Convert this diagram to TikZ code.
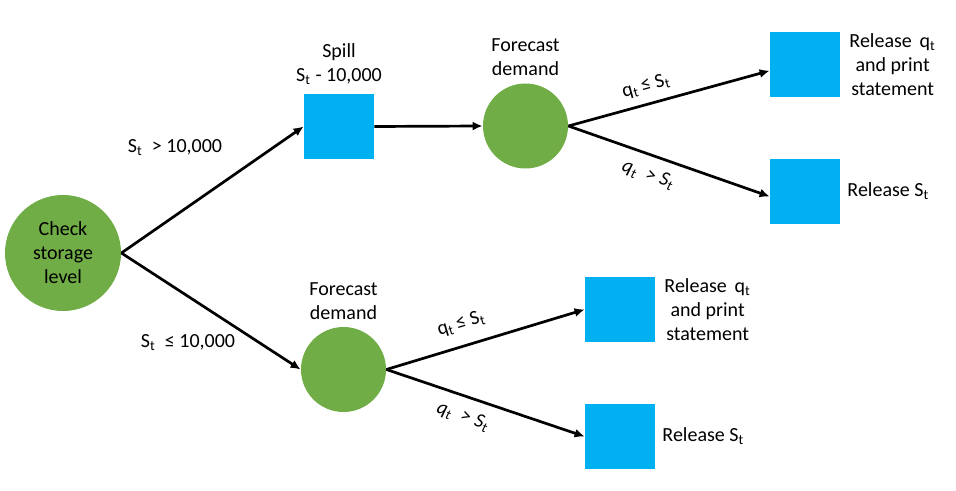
\documentclass[tikz,border=0pt]{standalone}
\usepackage{fontspec}
\setmainfont{Carlito}
\usepackage{xcolor}
\usepackage{tikz}
\usetikzlibrary{arrows.meta,positioning}
\definecolor{leafgreen}{HTML}{70AD47}
\definecolor{boxblue}{HTML}{00B0F0}

\begin{document}
\begin{tikzpicture}[x=0.5pt, y=-0.5pt, node distance=2pt, every node/.style={font=\fontsize{10}{12}\selectfont, align=center}, chance/.style={circle, fill=leafgreen, inner sep=0pt, minimum size=42.5pt}, action/.style={rectangle, fill=boxblue, inner sep=0pt, minimum width=35pt, minimum height=32.5pt}, branch/.style={line width=1.35pt, -{Latex[length=5pt, width=4.5pt]}}]
\useasboundingbox (0,0) rectangle (956,491);
\node[chance, minimum size=58pt] (check) at (63,253) {Check\\storage\\level};
\node[action] (spill) at (339,126.5) {};
\node[above=1pt of spill] (spilltxt) {Spill\\S\textsubscript{t} - 10,000};
\node[chance] (fcup) at (525.5,126) {};
\node[above=0pt of fcup] (fcuptxt) {Forecast\\demand};
\node[action] (relqup) at (805,64.5) {};
\node[action] (relsup) at (805,191.5) {};
\node[right=1pt of relqup] (relquptxt) {Release \,q\textsubscript{t}\\and print\\statement};
\node[right=0pt of relsup] (relsuptxt) {Release S\textsubscript{t}};
\node[chance] (fclow) at (343.5,369.5) {};
\node[above=0pt of fclow] (fclowtxt) {Forecast\\demand};
\node[action] (relqlow) at (620,309.5) {};
\node[action] (relslow) at (620,436.5) {};
\node[right=1pt of relqlow] (relqlowtxt) {Release \,q\textsubscript{t}\\and print\\statement};
\node[right=0pt of relslow] (relslowtxt) {Release S\textsubscript{t}};
\node (spillcond) at (175,148) {S\textsubscript{t} \ > 10,000};
\node (keepcond) at (188,343) {S\textsubscript{t} \ ≤ 10,000};
\draw[branch] (check.east) -- (spill.west);
\draw[branch] (check.east) -- (fclow.west);
\draw[branch] (spill.east) -- (fcup.west);
\draw[branch] (fcup.east) -- (relqup.190) node[pos=0.41, sloped, above=1pt] (upleq) {q\textsubscript{t}\,≤ S\textsubscript{t}};
\draw[branch] (fcup.east) -- (relsup.188) node[pos=0.43, sloped, below=2pt] (upgt) {\itshape q\/\textsubscript{t} \ > S\/\textsubscript{t}};
\draw[branch] (fclow.east) -- (relqlow.west) node[pos=0.41, sloped, above=3pt] (lowleq) {q\textsubscript{t}\,≤ S\textsubscript{t}};
\draw[branch] (fclow.east) -- (relslow.west) node[pos=0.42, sloped, below=2pt] (lowgt) {\itshape q\/\textsubscript{t} \ > S\/\textsubscript{t}};
\end{tikzpicture}
\end{document}
